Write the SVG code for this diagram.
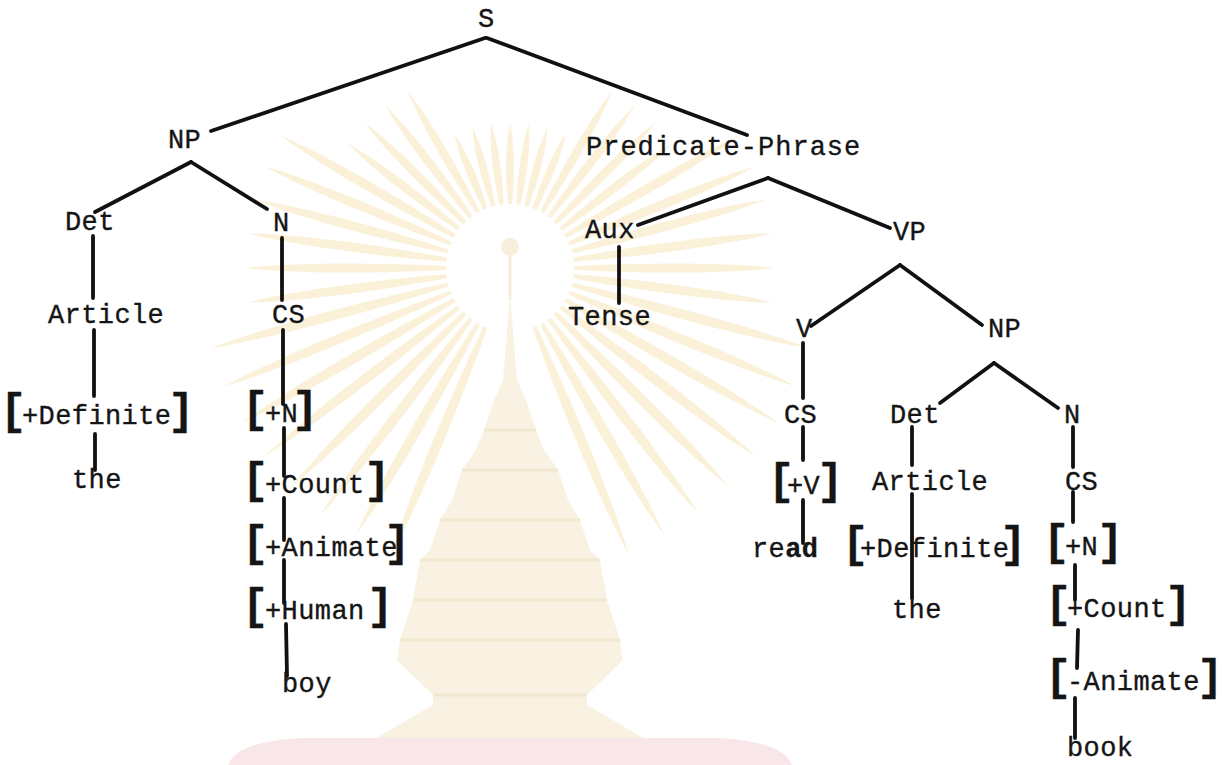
<svg xmlns="http://www.w3.org/2000/svg" width="1222" height="765" viewBox="0 0 1222 765">
<style>
.t{font-family:"Liberation Mono","DejaVu Sans Mono",monospace;font-size:27px;letter-spacing:0.4px;fill:#151515;stroke:#151515;stroke-width:0.35px}
.br{font-size:44px;font-weight:700;letter-spacing:0}
.bd{font-weight:700}
.e{stroke:#111;stroke-width:3.8;stroke-linecap:round;fill:none}
.ray{fill:#faf1d8}
</style>
<defs>
<path id="rS" d="M-2,-64 C-5,-95 -4.5,-125 0,-145 C4.5,-125 5,-95 2,-64 Z"/>
<path id="rM" d="M-2,-64 C-5.5,-120 -5,-170 0,-205 C5,-170 5.5,-120 2,-64 Z"/>
<path id="rL" d="M-2,-64 C-6,-140 -5.5,-220 0,-265 C5.5,-220 6,-140 2,-64 Z"/>
<path id="rX" d="M-2,-64 C-6.5,-160 -6,-250 0,-310 C6,-250 6.5,-160 2,-64 Z"/>
</defs>
<rect width="1222" height="765" fill="#ffffff"/>
<g id="watermark">
<g class="ray" transform="translate(510 268)">
<use href="#rS" transform="rotate(-22.5)"/><use href="#rS" transform="rotate(-15)"/><use href="#rS" transform="rotate(-7.5)"/><use href="#rS"/><use href="#rS" transform="rotate(7.5)"/><use href="#rS" transform="rotate(15)"/><use href="#rS" transform="rotate(22.5)"/>
<use href="#rM" transform="rotate(-30)"/><use href="#rM" transform="rotate(-37.5)"/><use href="#rM" transform="rotate(-45)"/><use href="#rM" transform="rotate(-52.5)"/>
<use href="#rM" transform="rotate(30)"/><use href="#rM" transform="rotate(37.5)"/><use href="#rM" transform="rotate(45)"/><use href="#rM" transform="rotate(52.5)"/>
<use href="#rL" transform="rotate(-60)"/><use href="#rL" transform="rotate(-67.5)"/><use href="#rL" transform="rotate(-75)"/><use href="#rL" transform="rotate(-82.5)"/><use href="#rL" transform="rotate(-90)"/><use href="#rL" transform="rotate(-97.5)"/>
<use href="#rL" transform="rotate(60)"/><use href="#rL" transform="rotate(67.5)"/><use href="#rL" transform="rotate(75)"/><use href="#rL" transform="rotate(82.5)"/><use href="#rL" transform="rotate(90)"/><use href="#rL" transform="rotate(97.5)"/>
<use href="#rX" transform="rotate(-105)"/><use href="#rX" transform="rotate(-112.5)"/><use href="#rX" transform="rotate(-120)"/><use href="#rX" transform="rotate(-127.5)"/><use href="#rX" transform="rotate(-135)"/><use href="#rX" transform="rotate(-142.5)"/><use href="#rX" transform="rotate(-150)"/><use href="#rX" transform="rotate(-157.5)"/>
<use href="#rX" transform="rotate(105)"/><use href="#rX" transform="rotate(112.5)"/><use href="#rX" transform="rotate(120)"/><use href="#rX" transform="rotate(127.5)"/><use href="#rX" transform="rotate(135)"/><use href="#rX" transform="rotate(142.5)"/><use href="#rX" transform="rotate(150)"/><use href="#rX" transform="rotate(157.5)"/>
</g>
<circle cx="510" cy="268" r="60" fill="#ffffff"/>
<circle cx="510" cy="247" r="9" fill="#f7eedb"/>
<rect x="508.5" y="256" width="3" height="44" fill="#f7eedb"/>
<path d="M510,295 L503,380 L494,400 L484,430 L476,450 L462,470 L452,500 L440,520 L430,550 L420,560 L413,600 L400,640 L397,660 L433,695 L433,705 L373,740 L647,740 L587,705 L587,695 L623,660 L620,640 L607,600 L600,560 L590,550 L580,520 L568,500 L558,470 L544,450 L536,430 L526,400 L517,380 Z" fill="#f9f2e2"/>
<path d="M484,430 H536 M462,470 H558 M440,520 H580 M420,560 H600 M413,600 H607 M400,640 H620 M433,695 H587" stroke="#f2e8cf" stroke-width="3" fill="none"/>
<path d="M228,765 Q236,742 300,738 L720,738 Q784,742 792,765 Z" fill="#f9e6e8"/>
</g>
<g id="connectors">
<path class="e" d="M485,38 L211,131"/>
<path class="e" d="M487,38 L747,135"/>
<path class="e" d="M191,162 L95,212"/>
<path class="e" d="M191,162 L267,209"/>
<path class="e" d="M93,236 L93,298"/>
<path class="e" d="M94,330 L94,396"/>
<path class="e" d="M95,434 L95,470"/>
<path class="e" d="M282,238 L282,300"/>
<path class="e" d="M283,330 L283,404"/>
<path class="e" d="M284,428 L284,476"/>
<path class="e" d="M284,498 L284,540"/>
<path class="e" d="M284,560 L284,603"/>
<path class="e" d="M286,624 L287,676"/>
<path class="e" d="M768,178 L638,225"/>
<path class="e" d="M768,178 L890,228"/>
<path class="e" d="M619,247 L619,303"/>
<path class="e" d="M900,265 L811,326"/>
<path class="e" d="M900,265 L982,325"/>
<path class="e" d="M803,343 L803,398"/>
<path class="e" d="M803,427 L803,460"/>
<path class="e" d="M803,500 L803,543"/>
<path class="e" d="M994,363 L940,403"/>
<path class="e" d="M994,363 L1058,408"/>
<path class="e" d="M912,427 L912,465"/>
<path class="e" d="M912,494 L912,598"/>
<path class="e" d="M1073,427 L1073,467"/>
<path class="e" d="M1073,492 L1073,522"/>
<path class="e" d="M1075,565 L1075,600"/>
<path class="e" d="M1078,630 L1077,668"/>
<path class="e" d="M1075,698 L1075,738"/>
</g>
<g id="n-S"><text class="t" x="478" y="27">S</text></g>
<g id="n-NP1"><text class="t" x="168" y="148">NP</text></g>
<g id="n-PredP"><text class="t" x="586" y="155" style="letter-spacing:1px">Predicate-Phrase</text></g>
<g id="n-Det1"><text class="t" x="65" y="230">Det</text></g>
<g id="n-N1"><text class="t" x="273" y="231">N</text></g>
<g id="n-Article1"><text class="t" x="48" y="323">Article</text></g>
<g id="n-CS1"><text class="t" x="272" y="323">CS</text></g>
<g id="n-Def1"><text class="t" y="424"><tspan class="br" x="0">[</tspan><tspan x="22">+Definite</tspan><tspan class="br" x="168">]</tspan></text></g>
<g id="n-the1"><text class="t" x="72" y="488">the</text></g>
<g id="n-N1f"><text class="t" y="422"><tspan class="br" x="242">[</tspan><tspan x="265">+N</tspan><tspan class="br" x="292">]</tspan></text></g>
<g id="n-Count1"><text class="t" y="493"><tspan class="br" x="242">[</tspan><tspan x="265">+Count</tspan><tspan class="br" x="364">]</tspan></text></g>
<g id="n-Animate1"><text class="t" y="556"><tspan class="br" x="242">[</tspan><tspan x="265">+Animate</tspan><tspan class="br" x="384">]</tspan></text></g>
<g id="n-Human1"><text class="t" y="619"><tspan class="br" x="242">[</tspan><tspan x="265">+Human</tspan><tspan class="br" x="367">]</tspan></text></g>
<g id="n-boy"><text class="t" x="282" y="692">boy</text></g>
<g id="n-Aux"><text class="t" x="585" y="238">Aux</text></g>
<g id="n-VP"><text class="t" x="893" y="240">VP</text></g>
<g id="n-Tense"><text class="t" x="568" y="325">Tense</text></g>
<g id="n-V"><text class="t" x="796" y="337">V</text></g>
<g id="n-NP2"><text class="t" x="988" y="337">NP</text></g>
<g id="n-CS2"><text class="t" x="784" y="423">CS</text></g>
<g id="n-Det2"><text class="t" x="890" y="423">Det</text></g>
<g id="n-N2"><text class="t" x="1064" y="423">N</text></g>
<g id="n-Vf"><text class="t" y="494"><tspan class="br" x="768">[</tspan><tspan x="787">+V</tspan><tspan class="br" x="817">]</tspan></text></g>
<g id="n-Article2"><text class="t" x="872" y="490">Article</text></g>
<g id="n-CS3"><text class="t" x="1065" y="490">CS</text></g>
<g id="n-read"><text class="t" x="752" y="557">re<tspan class="bd">ad</tspan></text></g>
<g id="n-Def2"><text class="t" y="557"><tspan class="br" x="842">[</tspan><tspan x="860">+Definite</tspan><tspan class="br" x="1000">]</tspan></text></g>
<g id="n-the2"><text class="t" x="892" y="618">the</text></g>
<g id="n-N2f"><text class="t" y="555"><tspan class="br" x="1043">[</tspan><tspan x="1065">+N</tspan><tspan class="br" x="1097">]</tspan></text></g>
<g id="n-Count2"><text class="t" y="617"><tspan class="br" x="1045">[</tspan><tspan x="1067">+Count</tspan><tspan class="br" x="1165">]</tspan></text></g>
<g id="n-Animate2"><text class="t" y="690"><tspan class="br" x="1045">[</tspan><tspan x="1067">-Animate</tspan><tspan class="br" x="1197">]</tspan></text></g>
<g id="n-book"><text class="t" x="1067" y="756">book</text></g>
</svg>
